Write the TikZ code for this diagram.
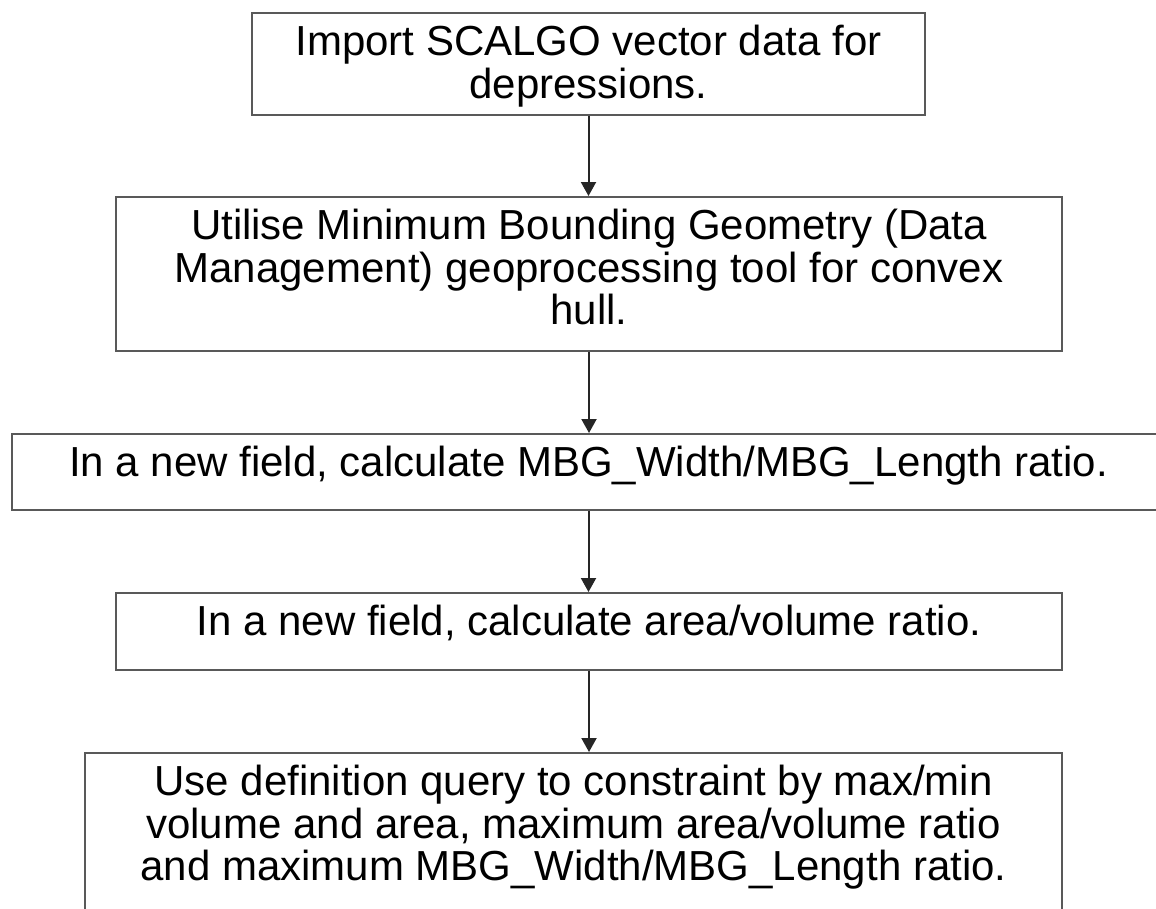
\documentclass[tikz,border=0pt]{standalone}
\usepackage{fontspec}
\setmainfont{Liberation Sans}
\usetikzlibrary{arrows.meta}
\usetikzlibrary{positioning}

\tikzset{
  procbox/.style={draw=black!65, line width=1.6pt, fill=white,
    align=center, anchor=north, inner xsep=0pt, inner ysep=0pt,
    font=\fontsize{42}{42.5}\selectfont},
  flowarrow/.style={draw=black!85, line width=2pt,
    -{Triangle[length=14pt,width=15pt]}},
}

\begin{document}
\begin{tikzpicture}[x=1pt,y=1pt]
  \useasboundingbox (0,0) rectangle (1156,-908);
  % the five processing steps, top to bottom
  \node[procbox, minimum width=673pt, text height=85.5pt, text depth=16.5pt]
    (import) at (588.5,-12)
    {Import SCALGO vector data for\\depressions.};
  \node[procbox, minimum width=946pt, text height=128pt, text depth=26pt]
    (mbg) at (589,-196)
    {Utilise Minimum Bounding Geometry (Data\\Management) geoprocessing tool for convex\\hull.};
  \node[procbox, minimum width=1153pt, text height=43pt, text depth=33pt]
    (ratio) at (588.5,-433)
    {In a new field, calculate MBG\_Width/MBG\_Length ratio.};
  \node[procbox, minimum width=946pt, text height=43pt, text depth=34pt]
    (areavol) at (589,-592)
    {In a new field, calculate area/volume ratio.};
  \node[procbox, minimum width=977pt, text height=128pt, text depth=32pt]
    (query) at (573.5,-752)
    {Use definition query to constraint by max/min\\volume and area, maximum area/volume ratio\\and maximum MBG\_Width/MBG\_Length ratio.};
  % connectors
  \draw[flowarrow] (import.south) -- (import.south |- mbg.north);
  \draw[flowarrow] (mbg.south) -- (mbg.south |- ratio.north);
  \draw[flowarrow] (ratio.south) -- (ratio.south |- areavol.north);
  \draw[flowarrow] (areavol.south) -- (areavol.south |- query.north);
\end{tikzpicture}
\end{document}
